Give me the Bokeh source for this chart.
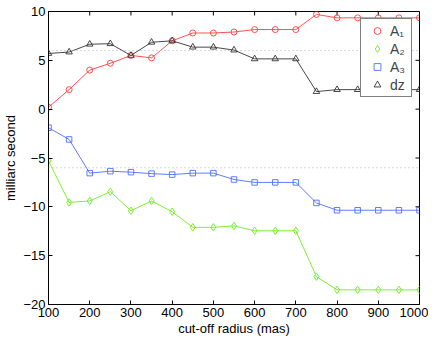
import math
from bokeh.plotting import figure
from bokeh.models import Range1d, FixedTicker, Span, Legend, LegendItem
from bokeh.embed import file_html
from bokeh.resources import INLINE

radius = [100, 150, 200, 250, 300, 350, 400, 450, 500, 550,
          600, 650, 700, 750, 800, 850, 900, 950, 1000]
a1 = [0.2, 2.0, 4.0, 4.7, 5.5, 5.25, 7.0, 7.8, 7.8, 7.9,
      8.15, 8.15, 8.15, 9.7, 9.35, 9.35, 9.35, 9.35, 9.35]
a2 = [-5.3, -9.55, -9.4, -8.45, -10.4, -9.4, -10.5, -12.1, -12.1, -11.95,
      -12.45, -12.45, -12.45, -17.15, -18.5, -18.5, -18.5, -18.5, -18.5]
a3 = [-1.9, -3.1, -6.55, -6.35, -6.45, -6.6, -6.7, -6.55, -6.55, -7.2,
      -7.5, -7.5, -7.5, -9.6, -10.35, -10.35, -10.35, -10.35, -10.35]
dz = [5.7, 5.85, 6.65, 6.7, 5.5, 6.85, 7.0, 6.35, 6.35, 6.05,
      5.15, 5.15, 5.15, 1.8, 2.0, 2.0, 2.0, 2.0, 2.0]
ref_levels = [6, -6]
x_ticks = [100, 200, 300, 400, 500, 600, 700, 800, 900, 1000]
y_ticks = [-20, -15, -10, -5, 0, 5, 10]
labels = ["A\u2081", "A\u2082", "A\u2083", "dz"]
x_lo, x_hi = 100, 1000
y_lo, y_hi = -20, 10

FONT = "Liberation Sans"

p = figure(width=428, height=338, output_backend="svg", toolbar_location=None,
           x_range=Range1d(x_lo, x_hi), y_range=Range1d(y_lo, y_hi),
           min_border_left=44, min_border_right=9, min_border_top=11, min_border_bottom=0)
p.background_fill_color = "white"
p.border_fill_color = "white"
p.outline_line_color = "black"
p.outline_line_width = 1
p.xgrid.visible = False
p.ygrid.visible = False

for ax in (p.xaxis[0], p.yaxis[0]):
    ax.major_tick_in = 4
    ax.major_tick_out = 0
    ax.minor_tick_in = 0
    ax.minor_tick_out = 0
    ax.axis_line_color = "black"
    ax.major_tick_line_color = "black"
    ax.major_label_text_font = FONT
    ax.major_label_text_font_size = "13px"
    ax.major_label_text_color = "black"
    ax.axis_label_text_font = FONT
    ax.axis_label_text_font_size = "13px"
    ax.axis_label_text_font_style = "normal"
    ax.axis_label_text_color = "black"
p.xaxis[0].major_label_standoff = 3
p.xaxis[0].axis_label_standoff = 1
p.yaxis[0].major_label_standoff = 3
p.yaxis[0].axis_label_standoff = 2

p.xaxis[0].ticker = FixedTicker(ticks=x_ticks)
p.yaxis[0].ticker = FixedTicker(ticks=y_ticks)
p.yaxis[0].major_label_overrides = {t: str(t).replace("-", "\u2212") for t in y_ticks}
p.xaxis[0].axis_label = "cut-off radius (mas)"
p.yaxis[0].axis_label = "milliarc second"

# inward ticks on the top and right edges of the box (clipped to the frame)
p.scatter([x_hi] * len(y_ticks), y_ticks, marker="dash", size=8,
          line_color="black", line_width=1)
p.scatter(x_ticks, [y_hi] * len(x_ticks), marker="dash", size=8, angle=math.pi / 2,
          line_color="black", line_width=1)

for lvl in ref_levels:
    p.add_layout(Span(location=lvl, dimension="width", line_color="#b0b0b0",
                      line_dash="1 3", line_width=1))

colors = ["#ff4040", "#6fee1f", "#4d6eff", "#333333"]
markers = ["circle", "diamond", "square", "triangle"]
sizes = [6, 7.5, 5.5, 6.5]
series = [a1, a2, a3, dz]
items = []
for ys, c, m, s, lab in zip(series, colors, markers, sizes, labels):
    p.line(radius, ys, line_color=c, line_width=0.9)
    r = p.scatter(radius, ys, marker=m, size=s, line_color=c, fill_color=None, line_width=0.9)
    items.append(LegendItem(label=lab, renderers=[r]))

legend = Legend(items=items, location="top_right")
legend.label_text_font = FONT
legend.label_text_font_size = "14px"
legend.border_line_color = "black"
legend.border_line_width = 1
legend.background_fill_color = "white"
legend.background_fill_alpha = 1
legend.padding = 3
legend.spacing = 1
legend.glyph_width = 26
legend.glyph_height = 17
legend.label_standoff = 0
legend.label_height = 17
legend.label_width = 18
legend.margin = 7
p.add_layout(legend, "center")

open("out.html", "w").write(file_html(p, INLINE))
